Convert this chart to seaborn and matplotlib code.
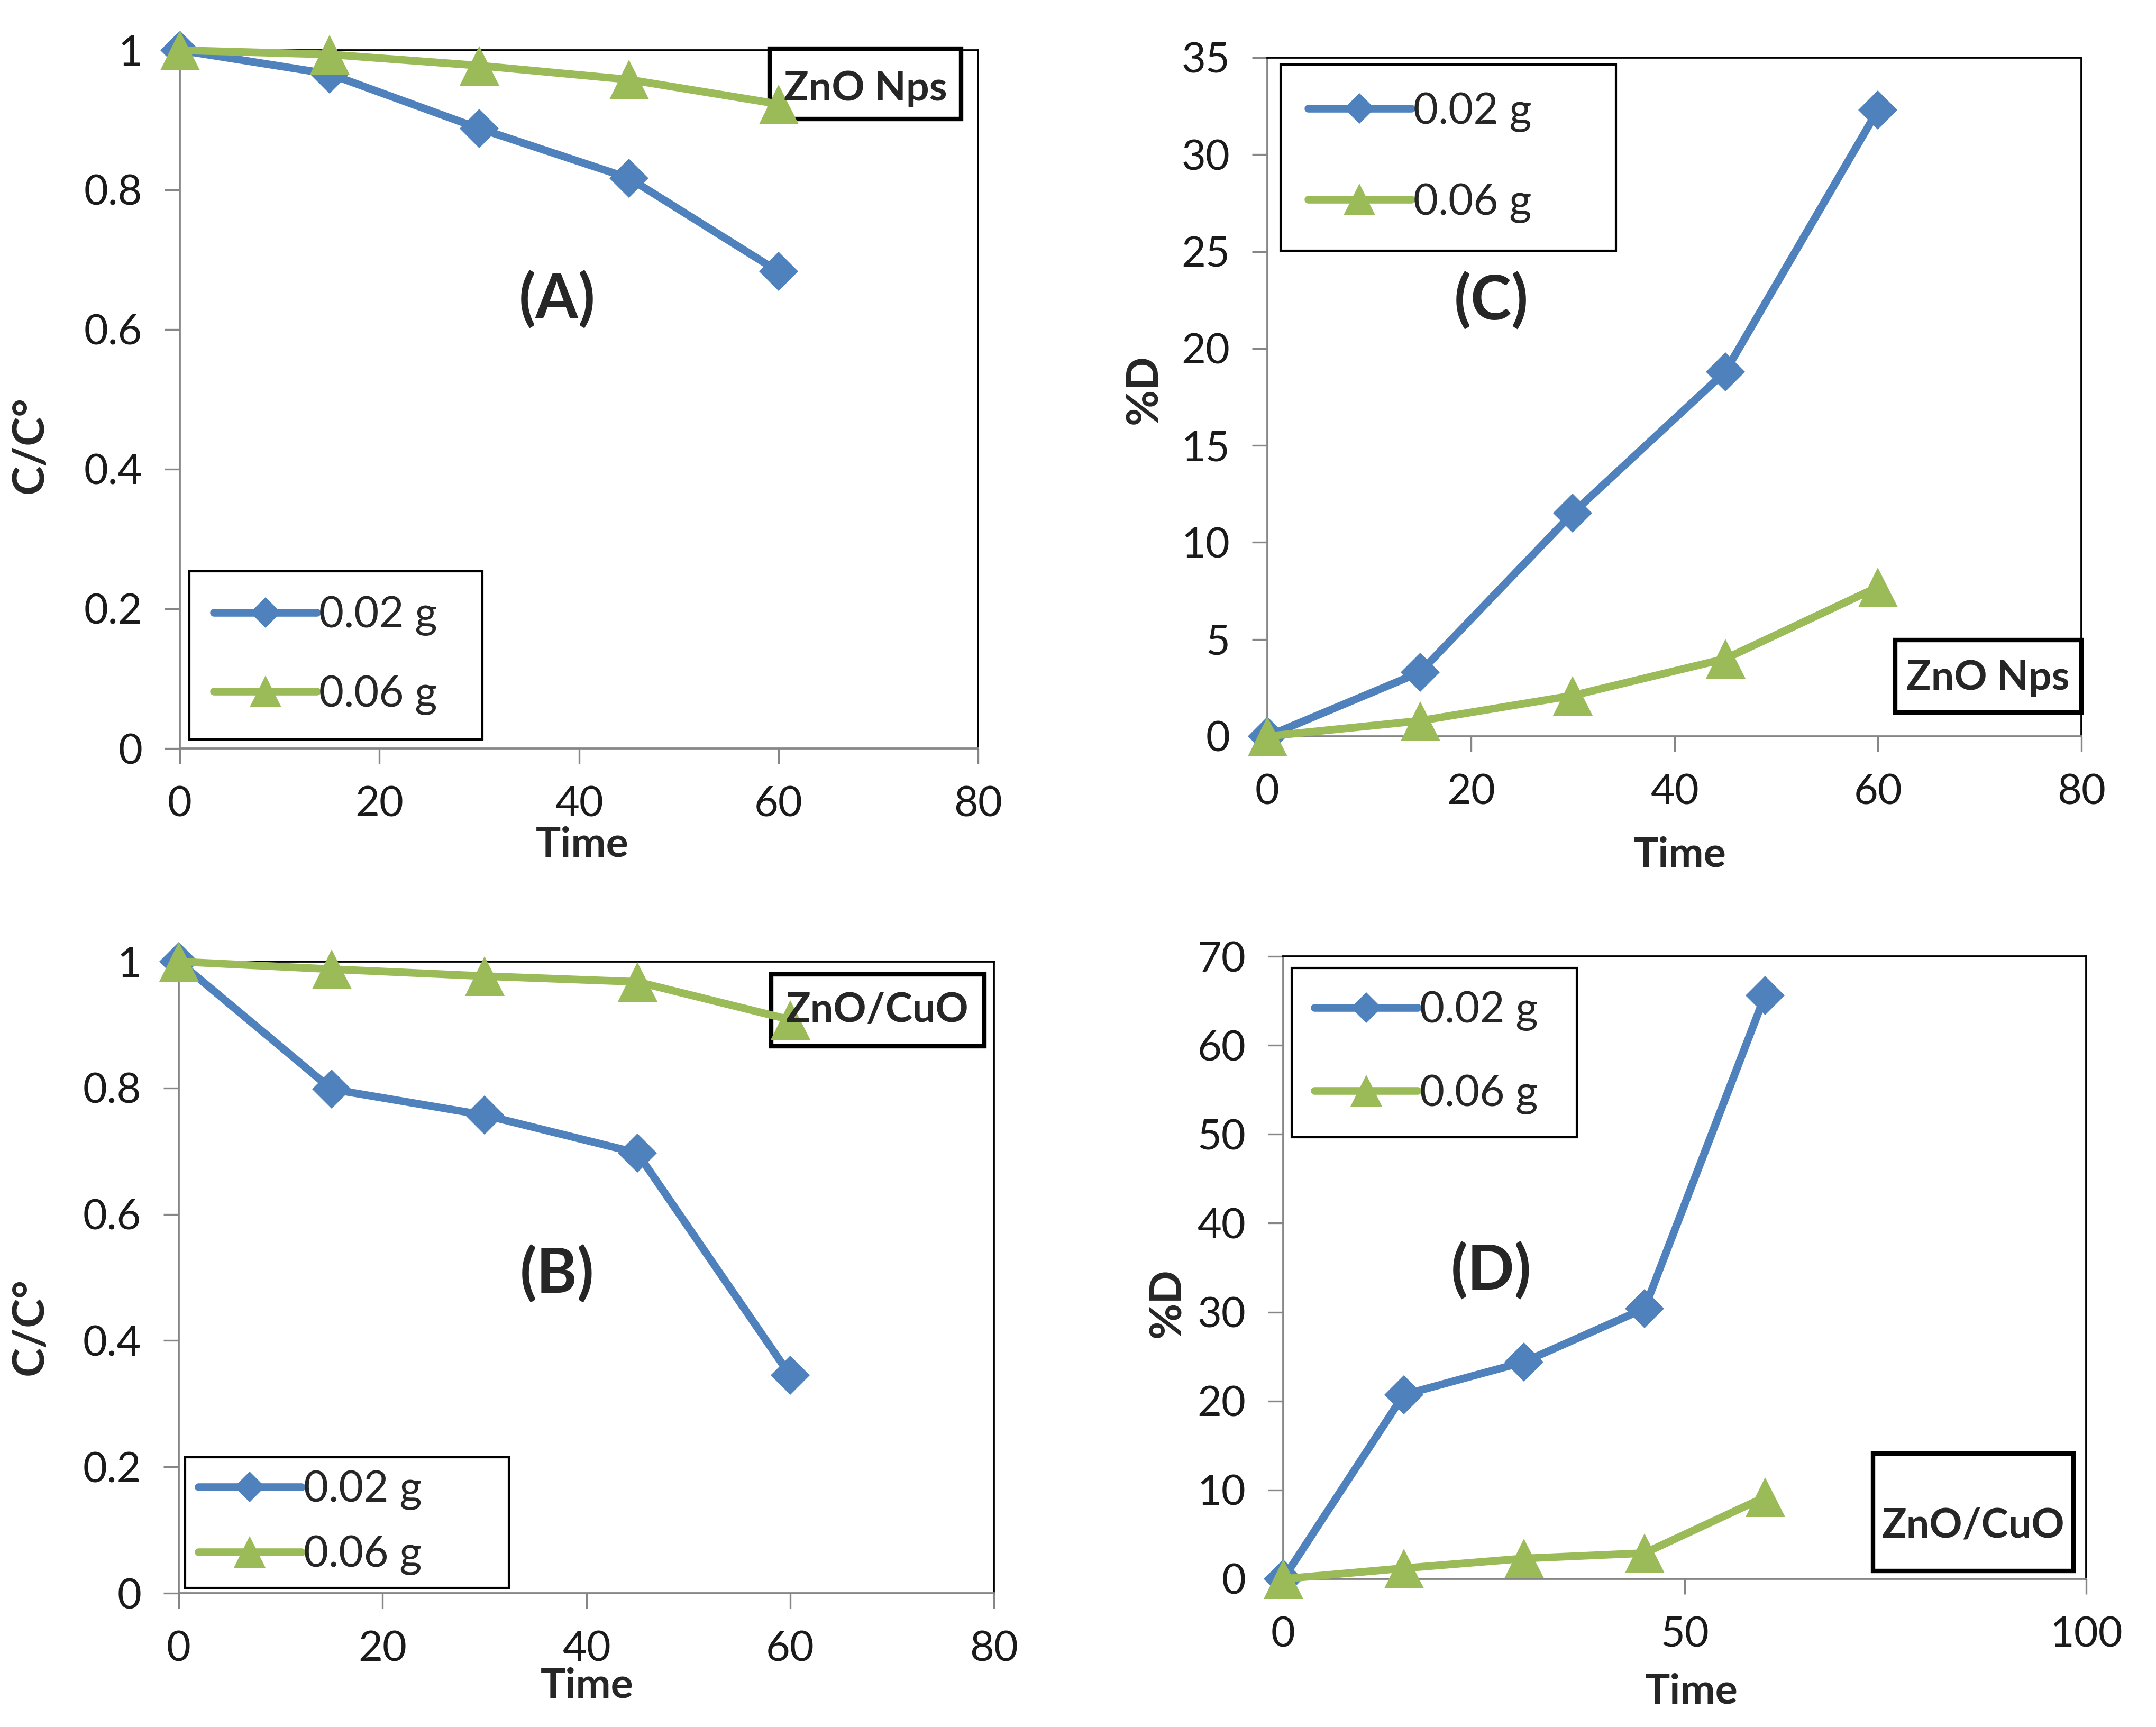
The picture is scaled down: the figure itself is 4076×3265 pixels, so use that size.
import numpy as np
import pandas as pd
import seaborn as sns
import matplotlib.pyplot as plt
from matplotlib.patches import Rectangle
from matplotlib.ticker import FuncFormatter

# data
time = [0, 15, 30, 45, 60]
labels = ["0.02 g", "0.06 g"]

# (A) ZnO Nps, C/C0
a_002 = [1.0, 0.966, 0.888, 0.817, 0.683]
a_006 = [1.0, 0.994, 0.978, 0.958, 0.923]
# (C) ZnO Nps, %D
c_002 = [0.0, 3.3, 11.5, 18.8, 32.3]
c_006 = [0.0, 0.8, 2.1, 4.0, 7.7]
# (B) ZnO/CuO, C/C0
b_002 = [1.0, 0.798, 0.757, 0.697, 0.345]
b_006 = [1.0, 0.988, 0.977, 0.968, 0.908]
# (D) ZnO/CuO, %D
d_002 = [0.0, 20.7, 24.4, 30.4, 65.6]
d_006 = [0.0, 1.2, 2.3, 2.9, 9.2]

blue = "#4F81BD"
green = "#9BBB59"
grey = "#868686"

sns.set_style("white")
plt.rcParams["font.family"] = ["Lato", "DejaVu Sans"]

W, H = 4076, 3265
fig = plt.figure(figsize=(W / 300, H / 300), dpi=300)


def add_ax(l, r, t, b):
    return fig.add_axes([l / W, 1 - b / H, (r - l) / W, (b - t) / H])


def style(ax, xmax, xstep, ymax, ystep):
    ax.set_xlim(0, xmax)
    ax.set_ylim(0, ymax)
    ax.set_xticks(np.arange(0, xmax + 0.001, xstep))
    ax.set_yticks(np.arange(0, ymax + 0.0001, ystep))
    fmt = FuncFormatter(lambda v, p: "%g" % round(v, 3))
    ax.xaxis.set_major_formatter(fmt)
    ax.yaxis.set_major_formatter(fmt)
    for s in ["left", "bottom"]:
        ax.spines[s].set_color(grey)
        ax.spines[s].set_linewidth(0.9)
    for s in ["top", "right"]:
        ax.spines[s].set_color("black")
        ax.spines[s].set_linewidth(0.9)
    ax.tick_params(direction="out", length=7, width=0.8, color=grey,
                   labelsize=19, pad=10, labelcolor="#1a1a1a",
                   bottom=True, left=True)


def draw(ax, y1, y2):
    sns.lineplot(x=time, y=y1, ax=ax, color=blue, marker="D", markersize=12.5,
                 markeredgewidth=0, linewidth=3.5, label=labels[0],
                 clip_on=False, zorder=3)
    sns.lineplot(x=time, y=y2, ax=ax, color=green, marker="^", markersize=18,
                 markeredgewidth=0, linewidth=3.5, label=labels[1],
                 clip_on=False, zorder=3)


def legend(ax, x0, y0, w, loc, ls, bp):
    lg = ax.legend(loc=loc, bbox_to_anchor=(x0, y0, w, 0), mode="expand",
                   borderaxespad=0, fontsize=19.5, frameon=True, fancybox=False,
                   edgecolor="black", handlelength=2.4, handletextpad=0.05,
                   labelspacing=ls, borderpad=bp, numpoints=1, markerscale=0.8)
    lg.get_frame().set_linewidth(1.0)
    lg.get_frame().set_alpha(1)
    lg.set_zorder(7)


def tag_box(ax, x0, x1, y0, y1, txt, tx, ty):
    # box sits under the lines, text on top (as in the original)
    ax.add_patch(Rectangle((x0, y0), x1 - x0, y1 - y0, transform=ax.transAxes,
                           fill=True, fc="white", ec="black", lw=2.0,
                           zorder=1.5, clip_on=False))
    ax.text(tx, ty, txt, transform=ax.transAxes, ha="center", va="center",
            fontsize=18.5, fontweight="bold", zorder=6)


def labels_(ax, yl, xc, yc, panel, px, py):
    ax.set_xlabel("Time", fontsize=19, fontweight="bold")
    ax.set_ylabel(yl, fontsize=20, fontweight="bold")
    ax.xaxis.set_label_coords(*xc)
    ax.yaxis.set_label_coords(*yc)
    ax.xaxis.label.set_va("center")
    ax.yaxis.label.set_va("center")
    ax.text(px, py, panel, transform=ax.transAxes, ha="center", va="center",
            fontsize=28, fontweight="bold")


# (A)
axA = add_ax(340, 1849, 95, 1415)
draw(axA, a_002, a_006)
style(axA, 80, 20, 1, 0.2)
legend(axA, 0.012, 0.013, 0.367, "lower left", 0.9, 0.57)
tag_box(axA, 0.739, 0.979, 0.9015, 1.002, "ZnO Nps", 0.859, 0.945)
labels_(axA, "C/C°", (0.504, -0.138), (-0.1875, 0.435), "(A)", 0.4725, 0.642)

# (C)
axC = add_ax(2396, 3935, 109, 1392)
draw(axC, c_002, c_006)
style(axC, 80, 20, 35, 5)
legend(axC, 0.016, 0.990, 0.412, "upper left", 1.18, 0.64)
tag_box(axC, 0.771, 1.0, 0.035, 0.142, "ZnO Nps", 0.885, 0.086)
labels_(axC, "%D", (0.507, -0.175), (-0.151, 0.511), "(C)", 0.275, 0.641)

# (B)
axB = add_ax(338, 1879, 1818, 3012)
draw(axB, b_002, b_006)
style(axB, 80, 20, 1, 0.2)
legend(axB, 0.008, 0.008, 0.397, "lower left", 0.58, 0.3)
tag_box(axB, 0.727, 0.988, 0.866, 0.980, "ZnO/CuO", 0.857, 0.923)
labels_(axB, "C/C°", (0.501, -0.147), (-0.182, 0.422), "(B)", 0.464, 0.505)

# (D)
axD = add_ax(2426, 3944, 1808, 2985)
draw(axD, d_002, d_006)
style(axD, 100, 50, 70, 10)
legend(axD, 0.0105, 0.981, 0.355, "upper left", 1.0, 0.53)
tag_box(axD, 0.7345, 0.984, 0.0127, 0.201, "ZnO/CuO", 0.859, 0.085)
labels_(axD, "%D", (0.5086, -0.181), (-0.1436, 0.443), "(D)", 0.259, 0.494)

fig.savefig("out.png", dpi=300)
